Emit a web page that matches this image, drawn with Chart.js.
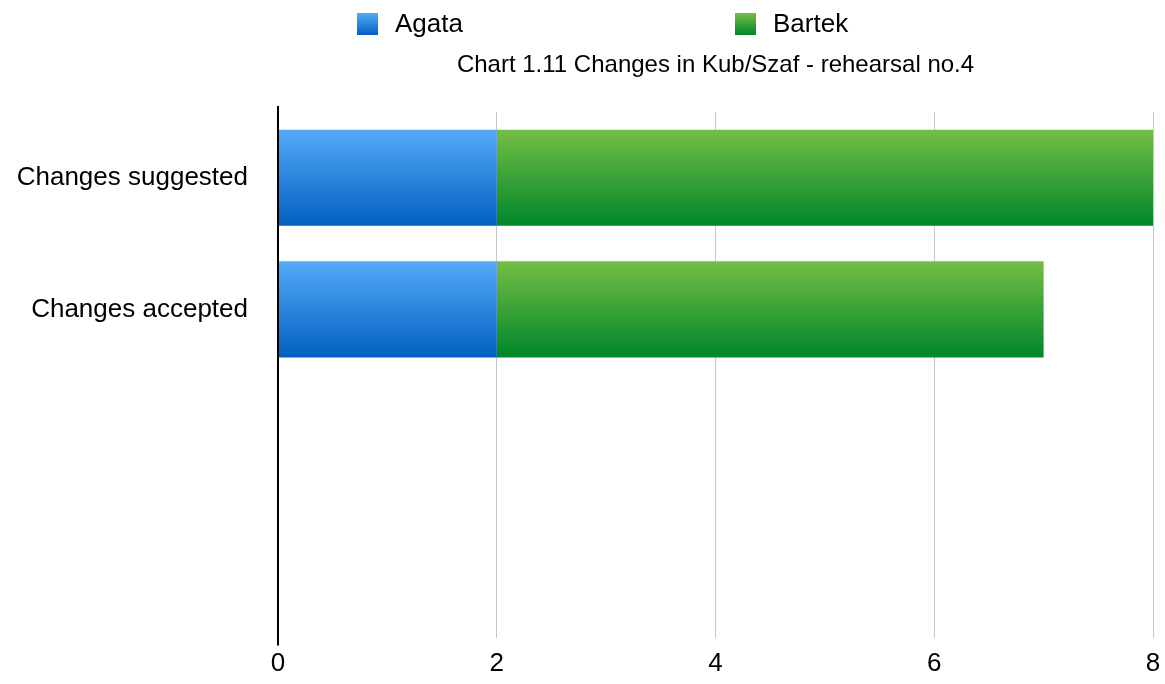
<!DOCTYPE html>
<html>
<head>
<meta charset="utf-8">
<script src="https://cdn.jsdelivr.net/npm/chart.js@4"></script>
<style>
  html, body { margin: 0; padding: 0; background: #fff; }
  #wrap { width: 1165px; height: 684px; }
</style>
</head>
<body>
<div id="wrap"><canvas id="changesChart" width="1165" height="684"></canvas></div>
<script>
// Chart 1.11 - changes in Kub/Szaf, rehearsal no.4

const categories = ['Changes suggested', 'Changes accepted', '', ''];
const agataValues = [2, 2, null, null];
const bartekValues = [6, 5, null, null];
const xTickValues = [0, 2, 4, 6, 8];
const chartTitle = 'Chart 1.11 Changes in Kub/Szaf - rehearsal no.4';

const FONT = '"Liberation Sans", Arial, Helvetica, sans-serif';
const blueStops = ['#54aaf9', '#0360c0'];
const greenStops = ['#74be45', '#00862a'];

// vertical gradient for each bar, following the bar's own top and bottom
function barGradient(stops) {
    return (ctx) => {
        const chart = ctx.chart;
        const yScale = chart.scales.y;
        if (!chart.chartArea || !yScale || ctx.dataIndex === undefined) return stops[1];
        const band = Math.abs(yScale.getPixelForValue(1) - yScale.getPixelForValue(0));
        const half = band * 0.73 / 2;
        const yc = yScale.getPixelForValue(ctx.dataIndex);
        const g = chart.ctx.createLinearGradient(0, yc - half, 0, yc + half);
        g.addColorStop(0, stops[0]);
        g.addColorStop(1, stops[1]);
        return g;
    };
}

// legend, title and the slightly longer y axis line, drawn by hand
const headerPlugin = {
    id: 'header',
    afterDraw(chart) {
        const c = chart.ctx;
        const area = chart.chartArea;
        const legendX = [357, 735];
        const stops = [blueStops, greenStops];
        c.save();
        c.strokeStyle = '#000';
        c.lineWidth = 2;
        c.beginPath();
        c.moveTo(area.left, area.top - 6);
        c.lineTo(area.left, area.bottom + 7);
        c.stroke();

        chart.data.datasets.forEach((ds, i) => {
            const x = legendX[i];
            const g = c.createLinearGradient(0, 13, 0, 35);
            g.addColorStop(0, stops[i][0]);
            g.addColorStop(1, stops[i][1]);
            c.fillStyle = g;
            c.fillRect(x, 13, 21, 22);
            c.fillStyle = '#000';
            c.font = '26px ' + FONT;
            c.textBaseline = 'middle';
            c.textAlign = 'left';
            c.fillText(ds.label, x + 38, 25);
        });
        c.font = '24px ' + FONT;
        c.textAlign = 'center';
        c.fillText(chartTitle, (area.left + area.right) / 2, 65);
        c.restore();
    }
};

const ctx = document.getElementById('changesChart').getContext('2d');
new Chart(ctx, {
    type: 'bar',
    data: {
        labels: categories,
        datasets: [
            {
                label: 'Agata',
                data: agataValues,
                backgroundColor: barGradient(blueStops),
                borderWidth: 0
            },
            {
                label: 'Bartek',
                data: bartekValues,
                backgroundColor: barGradient(greenStops),
                borderWidth: 0
            }
        ]
    },
    options: {
        indexAxis: 'y',
        responsive: false,
        animation: false,
        barPercentage: 0.73,
        categoryPercentage: 1,
        layout: { padding: { top: 112, right: 12, left: 0, bottom: 0 } },
        plugins: {
            legend: { display: false },
            title: { display: false },
            tooltip: { enabled: false }
        },
        scales: {
            x: {
                stacked: true,
                min: 0,
                max: 8,
                afterBuildTicks: (s) => { s.ticks = xTickValues.map(v => ({ value: v })); },
                afterFit: (s) => { s.height = 35; s.paddingRight = 0; s.paddingLeft = 0; },
                grid: { color: '#c8c8c8', lineWidth: 1, drawTicks: false },
                border: { display: false },
                ticks: {
                    color: '#000',
                    padding: 10,
                    font: { family: FONT, size: 26 }
                }
            },
            y: {
                stacked: true,
                afterFit: (s) => { s.width = 278; },
                grid: { display: false, drawTicks: false },
                border: { display: false },
                ticks: {
                    color: '#000',
                    padding: 30,
                    font: { family: FONT, size: 26 }
                }
            }
        }
    },
    plugins: [headerPlugin]
});
</script>
</body>
</html>
